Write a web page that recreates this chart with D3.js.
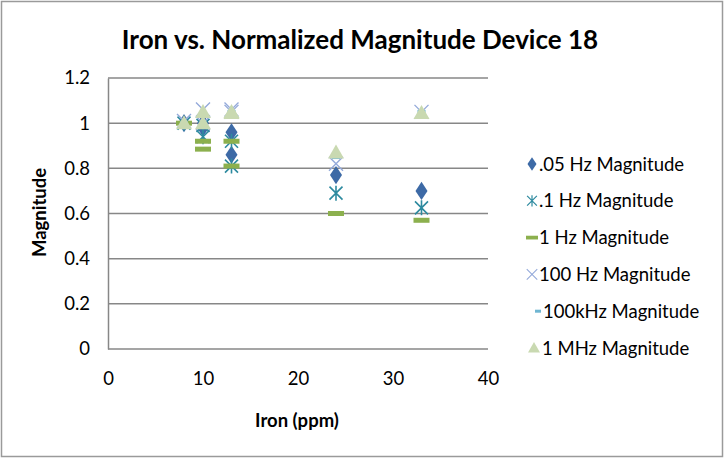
<!DOCTYPE html>
<html>
<head>
<meta charset="utf-8">
<script src="https://cdnjs.cloudflare.com/ajax/libs/d3/7.8.5/d3.min.js"></script>
<style>
  body { margin: 0; background: #fff; }
  svg { font-family: Lato, "Open Sans", sans-serif; }
</style>
</head>
<body>
<svg id="chart" width="724" height="460"></svg>
<script>
// iron concentration (ppm) for each sample
const iron = [8, 10, 10, 13, 13, 24, 33];

const mag05Hz = [1.0, 1.0, 0.98, 0.96, 0.86, 0.77, 0.70];
const mag01Hz = [1.0, 0.99, 0.94, 0.92, 0.81, 0.69, 0.625];
const mag1Hz = [1.0, 0.92, 0.885, 0.92, 0.81, 0.60, 0.57];
const mag100Hz = [1.01, 1.06, 1.0, 1.06, 1.05, 0.82, 1.05];
const mag100kHz = [1.0, 1.04, 0.99, 1.05, 1.04, 0.85, 1.05];
const mag1MHz = [1.0, 1.05, 1.0, 1.05, 1.045, 0.87, 1.045];

const seriesNames = ['.05 Hz Magnitude', '.1 Hz Magnitude', '1 Hz Magnitude',
  '100 Hz Magnitude', '100kHz Magnitude', '1 MHz Magnitude'];
const yTicks = [0, 0.2, 0.4, 0.6, 0.8, 1, 1.2];
const xTicks = [0, 10, 20, 30, 40];

const series = [
  { name: seriesNames[0], values: mag05Hz, color: '#3D6AA6', shape: 'diamond' },
  { name: seriesNames[1], values: mag01Hz, color: '#2D8A9F', shape: 'star' },
  { name: seriesNames[2], values: mag1Hz, color: '#8CB04E', shape: 'dash' },
  { name: seriesNames[3], values: mag100Hz, color: '#93A9DA', shape: 'x' },
  { name: seriesNames[4], values: mag100kHz, color: '#6FB6D2', shape: 'smalldash' },
  { name: seriesNames[5], values: mag1MHz, color: '#C9D9B1', shape: 'triangle' }
];

const svg = d3.select('#chart');
const margin = { left: 108, right: 236, top: 78, bottom: 111 };
const W = 724, H = 460;
const FONT = 'Lato, "Open Sans", sans-serif';

// outer border
svg.append('rect')
  .attr('x', 1.5).attr('y', 1.5)
  .attr('width', W - 3).attr('height', H - 5)
  .attr('fill', '#fff').attr('stroke', '#9a9a9a').attr('stroke-width', 1.5);

const x = d3.scaleLinear().domain([0, 40]).range([margin.left, W - margin.right]);
const y = d3.scaleLinear().domain([0, 1.2]).range([H - margin.bottom, margin.top]);

// gridlines
svg.append('g')
  .selectAll('line')
  .data(yTicks)
  .join('line')
    .attr('x1', x(0)).attr('x2', x(40))
    .attr('y1', d => y(d)).attr('y2', d => y(d))
    .attr('stroke', '#878787').attr('stroke-width', 1.5);

// y axis
const yAxis = svg.append('g')
  .attr('transform', `translate(${x(0)},0)`)
  .call(d3.axisLeft(y).tickValues(yTicks).tickSize(0).tickPadding(18).tickFormat(d3.format('')));
yAxis.select('.domain').attr('stroke', '#878787').attr('stroke-width', 1.5);
yAxis.selectAll('text').attr('font-size', 18.5).attr('fill', '#000').attr('font-family', FONT);

// x axis
const xAxis = svg.append('g')
  .attr('transform', `translate(0,${y(0)})`)
  .call(d3.axisBottom(x).tickValues(xTicks).tickSize(0).tickPadding(23));
xAxis.select('.domain').remove();
xAxis.selectAll('text').attr('font-size', 18.5).attr('fill', '#000').attr('font-family', FONT);

// titles
svg.append('text')
  .attr('x', 360).attr('y', 49)
  .attr('text-anchor', 'middle')
  .attr('font-size', 26).attr('font-weight', 'bold')
  .text('Iron vs. Normalized Magnitude Device 18');

svg.append('text')
  .attr('x', 297).attr('y', 427)
  .attr('text-anchor', 'middle')
  .attr('font-size', 18.5).attr('font-weight', 'bold')
  .text('Iron (ppm)');

svg.append('text')
  .attr('transform', `translate(46,${(y(0) + y(1.2)) / 2 - 1}) rotate(-90)`)
  .attr('text-anchor', 'middle')
  .attr('font-size', 18.5).attr('font-weight', 'bold')
  .text('Magnitude');

// marker drawing
function drawMarker(g, shape, color) {
  if (shape === 'diamond') {
    g.append('path').attr('d', d3.symbol(d3.symbolDiamond, 95)()).attr('fill', color)
      .attr('transform', 'scale(1.15,1)');
  } else if (shape === 'star') {
    const s = 6.5;
    g.append('path')
      .attr('d', `M${-s},${-s}L${s},${s}M${-s},${s}L${s},${-s}M0,${-s - 1}L0,${s + 1}`)
      .attr('stroke', color).attr('stroke-width', 1.6).attr('fill', 'none');
  } else if (shape === 'dash') {
    g.append('rect').attr('x', -8).attr('y', -2.5).attr('width', 16).attr('height', 5).attr('fill', color);
  } else if (shape === 'x') {
    const s = 7;
    g.append('path')
      .attr('d', `M${-s},${-s}L${s},${s}M${-s},${s}L${s},${-s}`)
      .attr('stroke', color).attr('stroke-width', 1.4).attr('fill', 'none');
  } else if (shape === 'smalldash') {
    g.append('rect').attr('x', -4).attr('y', -2).attr('width', 8).attr('height', 4).attr('fill', color);
  } else if (shape === 'triangle') {
    g.append('path').attr('d', 'M0,-8L8,6L-8,6Z').attr('fill', color);
  }
}

// points
series.forEach(s => {
  svg.append('g')
    .selectAll('g')
    .data(s.values.map((v, i) => ({ x: iron[i], y: v })))
    .join('g')
      .attr('transform', d => `translate(${x(d.x)},${y(d.y)})`)
      .each(function() { drawMarker(d3.select(this), s.shape, s.color); });
});

// legend
const legend = svg.append('g').attr('transform', 'translate(532,164)');
series.forEach((s, i) => {
  const row = legend.append('g').attr('transform', `translate(0,${i * 36.8})`);
  const mx = s.shape === 'smalldash' ? 6 : (s.shape === 'triangle' ? 2 : 0);
  drawMarker(row.append('g').attr('transform', `translate(${mx},0) scale(0.75)`), s.shape, s.color);
  row.append('text')
    .attr('x', s.shape === 'smalldash' ? 11 : (s.shape === 'triangle' ? 10 : 7)).attr('y', 6.5)
    .attr('font-size', 18.5)
    .text(s.name);
});
</script>
</body>
</html>
